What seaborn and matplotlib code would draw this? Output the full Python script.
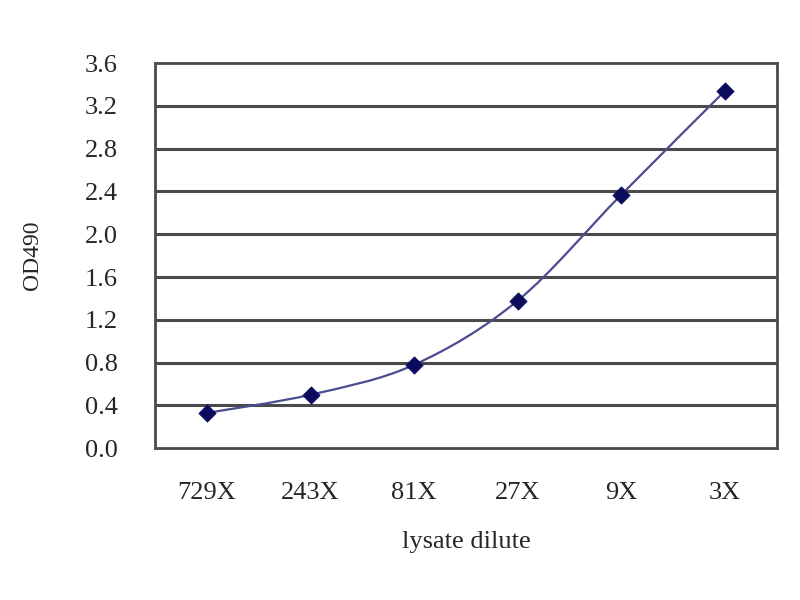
import numpy as np
import pandas as pd
import seaborn as sns
import matplotlib.pyplot as plt
from matplotlib.path import Path
from matplotlib.patches import PathPatch

# data
ředění = ['729X', '243X', '81X', '27X', '9X', '3X']
od490 = [0.33, 0.50, 0.78, 1.38, 2.37, 3.34]
y_ticky = [0.0, 0.4, 0.8, 1.2, 1.6, 2.0, 2.4, 2.8, 3.2, 3.6]

df = pd.DataFrame({'dilute': ředění, 'OD490': od490})
df['x'] = np.arange(len(df))

sns.set_style('white')
plt.rcParams['font.family'] = ['Liberation Serif', 'DejaVu Serif']

fig = plt.figure(figsize=(8, 6), dpi=100)
ax = fig.add_axes([0.194, 0.253, 0.777, 0.642])

# horizontalni mrizka (Excel vzhled)
for t in y_ticky[1:-1]:
    ax.axhline(t, color='#4a4a4a', lw=2.2, zorder=1)

# vyhlazena cara (bezier jako v Excelu)
xs = df['x'].to_numpy(float)
ys = df['OD490'].to_numpy(float)
P = np.column_stack([xs, ys])
verts = [P[0]]
codes = [Path.MOVETO]
n = len(P)
for i in range(n - 1):
    p0 = P[i - 1] if i > 0 else P[i]
    p1, p2 = P[i], P[i + 1]
    p3 = P[i + 2] if i + 2 < n else P[i + 1]
    c1 = p1 + (p2 - p0) / 6
    c2 = p2 - (p3 - p1) / 6
    verts += [c1, c2, p2]
    codes += [Path.CURVE4] * 3
ax.add_patch(PathPatch(Path(verts, codes), fill=False, edgecolor='#4b4b8f', lw=1.6, zorder=2))

sns.scatterplot(data=df, x='x', y='OD490', marker='D', s=75, color='#0b0b5e',
                edgecolor='#0b0b5e', zorder=3, ax=ax)

ax.set_xlim(-0.5, len(ředění) - 0.5)
ax.set_ylim(0, 3.6)
ax.set_yticks(y_ticky)
ax.set_yticklabels([f'{t:.1f}' for t in y_ticky], fontsize=19)
ax.set_xticks(df['x'])
ax.set_xticklabels(ředění, fontsize=19)
ax.set_xticks(np.arange(0.5, len(ředění) - 1, 1), minor=True)
ax.tick_params(axis='x', which='major', length=0, pad=24)
ax.tick_params(axis='x', which='minor', direction='in', length=6, width=1.5, color='#4a4a4a')
ax.tick_params(axis='y', length=0, pad=27)
ax.set_xlabel('lysate dilute', fontsize=19, labelpad=20)
ax.set_ylabel('OD490', fontsize=17, labelpad=30)

for s in ax.spines.values():
    s.set_visible(True)
    s.set_color('#4a4a4a')
    s.set_linewidth(2)

fig.savefig('out.png', dpi=100)
